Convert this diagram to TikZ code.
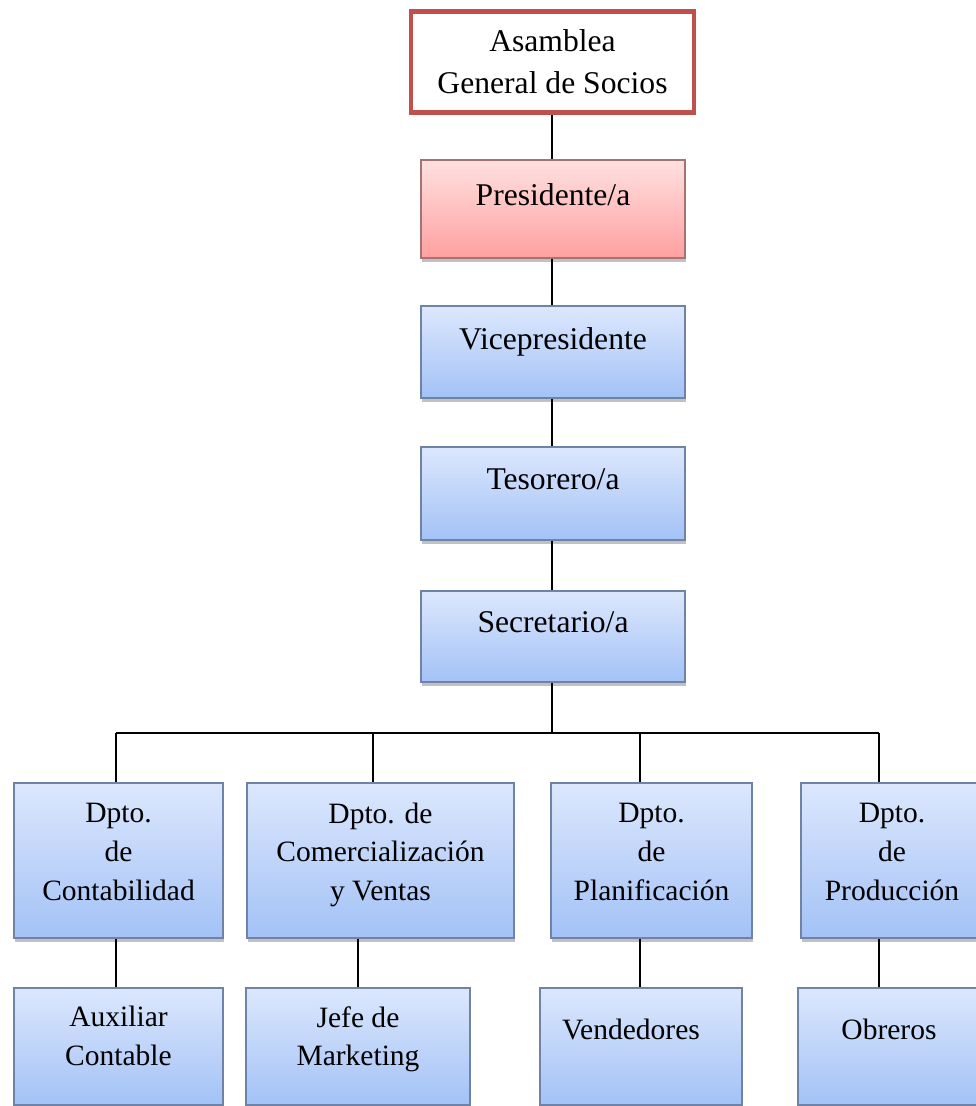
\documentclass[tikz,border=0pt]{standalone}
\usepackage{fontspec}
\setmainfont{Liberation Serif}
\usetikzlibrary{shadows}

\definecolor{asamred}{RGB}{192,80,77}
\definecolor{bluetop}{RGB}{220,231,253}
\definecolor{bluebot}{RGB}{163,194,246}
\definecolor{blueline}{RGB}{112,130,165}
\definecolor{pinktop}{RGB}{255,224,224}
\definecolor{pinkbot}{RGB}{255,160,160}
\definecolor{pinkline}{RGB}{165,115,115}

\tikzset{
  unit/.style={draw=blueline, line width=0.8pt, top color=bluetop, bottom color=bluebot,
    align=center, inner sep=0pt, font=\fontsize{18}{22}\selectfont,
    drop shadow={shadow xshift=0.6pt, shadow yshift=-2.5pt, opacity=0.35, fill=black!70}},
  pinkunit/.style={unit, draw=pinkline, top color=pinktop, bottom color=pinkbot},
  dept/.style={unit, font=\fontsize{16.8}{22}\selectfont},
  lift/.style={execute at end node={\rule[-#1]{0pt}{0pt}}},
  link/.style={line width=1.1pt},
}

\begin{document}
\begin{tikzpicture}[x=0.02cm, y=-0.02cm]
  \useasboundingbox (0,0) rectangle (976,1106);

  % chain of officers
  \node[draw=asamred, line width=2.3pt, fill=white, align=center, inner sep=0pt,
    font=\fontsize{18}{24}\selectfont, minimum width=5.66cm, minimum height=2.02cm]
    (asam) at (552.5,62) {Asamblea\\General de Socios};
  \node[pinkunit, lift=16pt, minimum width=5.28cm, minimum height=1.96cm] (pres) at (553,209) {Presidente/a};
  \node[unit, lift=15pt, minimum width=5.28cm, minimum height=1.84cm] (vice) at (553,352) {Vicepresidente};
  \node[unit, lift=16pt, minimum width=5.28cm, minimum height=1.86cm] (teso) at (553,493.5) {Tesorero/a};
  \node[unit, lift=16pt, minimum width=5.28cm, minimum height=1.82cm] (secr) at (553,636.5) {Secretario/a};

  % departments
  \node[dept, lift=10pt, minimum width=4.18cm, minimum height=3.1cm] (conta) at (118.5,860.5) {Dpto.\\de\\Contabilidad};
  \node[dept, lift=10pt, minimum width=5.34cm, minimum height=3.1cm] (comer) at (380.5,860.5) {Dpto. de\\Comercializaci\'on\\y Ventas};
  \node[dept, lift=10pt, minimum width=4.02cm, minimum height=3.1cm] (plan) at (651.5,860.5) {Dpto.\\de\\Planificaci\'on};
  \node[dept, lift=10pt, minimum width=3.64cm, minimum height=3.1cm] (prod) at (892,860.5) {Dpto.\\de\\Producci\'on};

  % staff
  \node[dept, lift=12pt, minimum width=4.18cm, minimum height=2.34cm] (aux) at (118.5,1046.5) {Auxiliar\\Contable};
  \node[dept, lift=12pt, minimum width=4.48cm, minimum height=2.34cm] (jefe) at (358,1046.5) {Jefe de\\Marketing};
  \node[dept, lift=20pt, minimum width=4.04cm, minimum height=2.34cm] (vend) at (641,1046.5) {Vendedores\hspace*{0.4cm}};
  \node[dept, lift=20pt, minimum width=3.64cm, minimum height=2.34cm] (obre) at (889,1046.5) {Obreros};

  \coordinate (bus) at (552,733);
  \coordinate (b1) at (116,733);
  \coordinate (b2) at (373,733);
  \coordinate (b3) at (640,733);
  \coordinate (b4) at (879,733);

  \draw[link] (asam.south -| bus) -- (pres.north -| bus);
  \draw[link] (pres.south -| bus) -- (vice.north -| bus);
  \draw[link] (vice.south -| bus) -- (teso.north -| bus);
  \draw[link] (teso.south -| bus) -- (secr.north -| bus);
  \draw[link] (secr.south -| bus) -- (bus);
  \draw[link] (b1) -- (b4);
  \draw[link] (b1) -- (b1 |- conta.north);
  \draw[link] (b2) -- (b2 |- comer.north);
  \draw[link] (b3) -- (b3 |- plan.north);
  \draw[link] (b4) -- (b4 |- prod.north);

  \draw[link] (b1 |- conta.south) -- (b1 |- aux.north);
  \draw[link] (jefe.north |- comer.south) -- (jefe.north);
  \draw[link] (b3 |- plan.south) -- (b3 |- vend.north);
  \draw[link] (b4 |- prod.south) -- (b4 |- obre.north);
\end{tikzpicture}
\end{document}
